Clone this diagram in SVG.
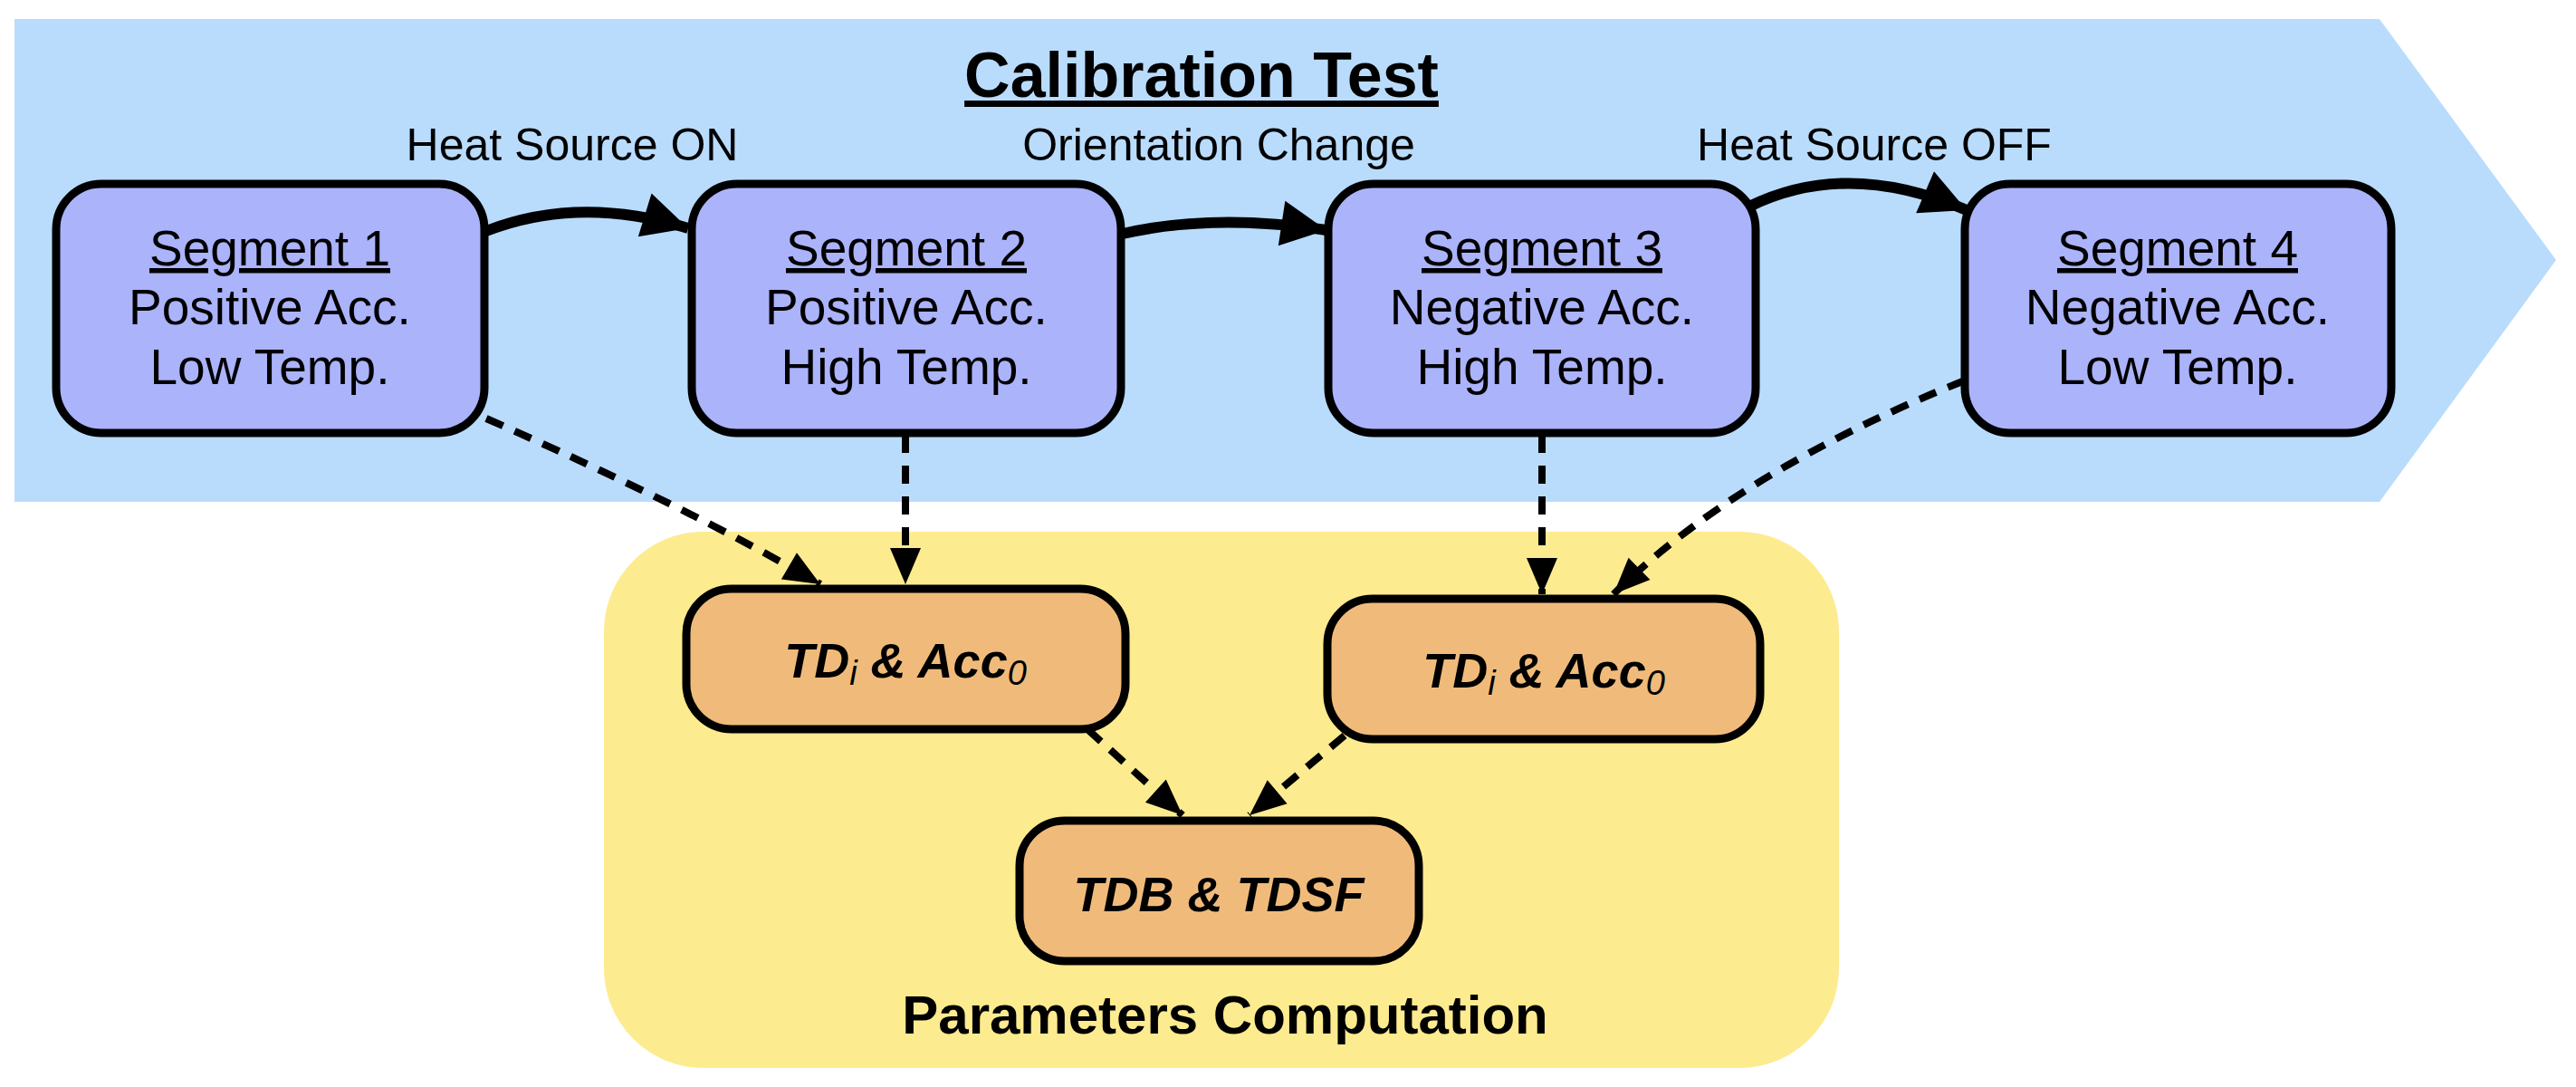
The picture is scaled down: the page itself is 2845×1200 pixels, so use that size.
<svg xmlns="http://www.w3.org/2000/svg" width="2845" height="1200" viewBox="0 0 2845 1200">
<style>
text{font-family:"Liberation Sans",Arial,sans-serif;fill:#000}
.seg{fill:#abb3fb;stroke:#000;stroke-width:9}
.par{fill:#f0bb7a;stroke:#000;stroke-width:9}
.st{font-size:55px;text-anchor:middle}
.lab{font-size:50px;text-anchor:middle}
.pt{font-size:54px;font-weight:bold;font-style:italic;text-anchor:middle}
.solid{fill:none;stroke:#000;stroke-width:12;marker-end:url(#ah)}
.dash{fill:none;stroke:#000;stroke-width:8;stroke-dasharray:20 14;marker-end:url(#dh)}
</style>
<defs>
<marker id="ah" markerUnits="userSpaceOnUse" markerWidth="60" markerHeight="60" viewBox="0 0 60 60" refX="55" refY="30" orient="auto"><path d="M5,5 L55,30 L5,55 Z" fill="#000"/></marker>
<marker id="dh" markerUnits="userSpaceOnUse" markerWidth="50" markerHeight="50" viewBox="0 0 50 50" refX="45" refY="25" orient="auto"><path d="M5,8 L45,25 L5,42 Z" fill="#000"/></marker>
</defs>
<rect width="2845" height="1200" fill="#fff"/>
<g id="calibration">
<path d="M16,21 L2628,21 L2823,287 L2628,554 L16,554 Z" fill="#b9dcfd"/>
<text x="1327" y="107" font-size="70" font-weight="bold" text-anchor="middle" text-decoration="underline">Calibration Test</text>
</g>
<g id="parameters">
<rect x="667" y="587" width="1364" height="592" rx="110" fill="#fdeb8f"/>
<text x="1353" y="1141" font-size="60" font-weight="bold" text-anchor="middle">Parameters Computation</text>
</g>
<g id="connectors">
<path class="solid" d="M537,255 Q640,215 760,252"/>
<path class="solid" d="M1240,258 Q1340,235 1465,254"/>
<path class="solid" d="M1932,228 Q2040,175 2172,232"/>
<path class="dash" d="M537,462 Q760,560 906,645"/>
<path class="dash" d="M1000,480 L1000,645"/>
<path class="dash" d="M1703,480 L1703,656"/>
<path class="dash" d="M2170,420 Q1920,520 1782,656"/>
<path class="dash" d="M1201,805 L1306,900"/>
<path class="dash" d="M1485,812 L1380,900"/>
</g>
<g id="labels">
<text class="lab" x="632" y="177">Heat Source ON</text>
<text class="lab" x="1346" y="177">Orientation Change</text>
<text class="lab" x="2070" y="177">Heat Source OFF</text>
</g>
<g id="seg1"><rect class="seg" x="62" y="203" width="473" height="275" rx="50"/>
<text class="st" x="298" y="293" text-decoration="underline">Segment 1</text><text class="st" x="298" y="358">Positive Acc.</text><text class="st" x="298" y="424">Low Temp.</text></g>
<g id="seg2"><rect class="seg" x="764" y="203" width="474" height="275" rx="50"/>
<text class="st" x="1001" y="293" text-decoration="underline">Segment 2</text><text class="st" x="1001" y="358">Positive Acc.</text><text class="st" x="1001" y="424">High Temp.</text></g>
<g id="seg3"><rect class="seg" x="1467" y="203" width="472" height="275" rx="50"/>
<text class="st" x="1703" y="293" text-decoration="underline">Segment 3</text><text class="st" x="1703" y="358">Negative Acc.</text><text class="st" x="1703" y="424">High Temp.</text></g>
<g id="seg4"><rect class="seg" x="2170" y="203" width="471" height="275" rx="50"/>
<text class="st" x="2405" y="293" text-decoration="underline">Segment 4</text><text class="st" x="2405" y="358">Negative Acc.</text><text class="st" x="2405" y="424">Low Temp.</text></g>
<g id="td1"><rect class="par" x="758" y="650" width="485" height="155" rx="50"/>
<text class="pt" x="1000" y="748">TD<tspan font-size="38" font-weight="normal" dy="8">i</tspan><tspan dy="-8"> &amp; Acc</tspan><tspan font-size="38" font-weight="normal" dy="8">0</tspan></text></g>
<g id="td2"><rect class="par" x="1466" y="661" width="478" height="155" rx="50"/>
<text class="pt" x="1705" y="759">TD<tspan font-size="38" font-weight="normal" dy="8">i</tspan><tspan dy="-8"> &amp; Acc</tspan><tspan font-size="38" font-weight="normal" dy="8">0</tspan></text></g>
<g id="tdb"><rect class="par" x="1126" y="906" width="441" height="155" rx="50"/>
<text class="pt" x="1346" y="1006">TDB &amp; TDSF</text></g>
</svg>
